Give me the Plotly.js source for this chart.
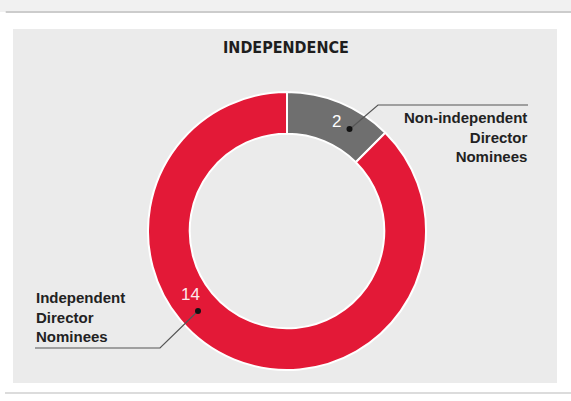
<!DOCTYPE html>
<html><head><meta charset="utf-8">
<script src="https://cdn.plot.ly/plotly-3.0.1.min.js"></script>
<style>html,body{margin:0;padding:0;background:#fff}#chart{width:571px;height:401px}</style>
</head><body><div id="chart"></div>
<script>
const categories = ["Non-independent Director Nominees", "Independent Director Nominees"];
const values = [2, 14];
const colors = ["#6f6f6f", "#e31937"];
const labelLines = [["Non-independent", "Director", "Nominees"], ["Independent", "Director", "Nominees"]];
const chartTitle = "INDEPENDENCE";

const W = 571, H = 401;
const px = x => x / W, py = y => 1 - y / H;
const cx = 287, cy = 231, R = 139;
const titleFont = "'DejaVu Sans Condensed', 'Liberation Sans Narrow', Arial, sans-serif";
const labelFont = "'Liberation Sans', Arial, sans-serif";

const shapes = [
  {type:'rect', xref:'paper', yref:'paper', x0:0, x1:1, y0:py(12), y1:1, fillcolor:'#f1f1f1', line:{width:0}, layer:'below'},
  {type:'line', xref:'paper', yref:'paper', x0:0.01, x1:1, y0:py(12), y1:py(12), line:{color:'#cccccc', width:2}, layer:'below'},
  {type:'rect', xref:'paper', yref:'paper', x0:px(13), x1:px(557), y0:py(383), y1:py(29), fillcolor:'#ebebeb', line:{width:0}, layer:'below'},
  {type:'line', xref:'paper', yref:'paper', x0:px(5), x1:1, y0:py(393), y1:py(393), line:{color:'#dcdcdc', width:2}, layer:'below'},
  {type:'path', xref:'paper', yref:'paper', path:`M ${px(350)} ${py(129)} L ${px(378)} ${py(105)} L ${px(528)} ${py(105)}`, line:{color:'#555', width:1.2}},
  {type:'path', xref:'paper', yref:'paper', path:`M ${px(198)} ${py(311)} L ${px(160)} ${py(348)} L ${px(35)} ${py(348)}`, line:{color:'#555', width:1.2}},
  {type:'circle', xref:'paper', yref:'paper', x0:px(346.5), x1:px(352.5), y0:py(132), y1:py(126), fillcolor:'#111', line:{width:0}},
  {type:'circle', xref:'paper', yref:'paper', x0:px(195), x1:px(201), y0:py(314), y1:py(308), fillcolor:'#111', line:{width:0}}
];

const annotations = [
  {text:'<b>'+chartTitle+'</b>', xref:'paper', yref:'paper', x:px(286), y:py(47), xanchor:'center', yanchor:'middle', showarrow:false, font:{family:titleFont, size:16, color:'#1e1e1e'}},
  {text:String(values[0]), xref:'paper', yref:'paper', x:px(336), y:py(122), xanchor:'center', yanchor:'middle', showarrow:false, font:{family:labelFont, size:17, color:'#fff'}},
  {text:String(values[1]), xref:'paper', yref:'paper', x:px(190), y:py(294), xanchor:'center', yanchor:'middle', showarrow:false, font:{family:labelFont, size:17, color:'#fde8eb'}},
  {text:'<b>'+labelLines[0].join('<br>')+'</b>', xref:'paper', yref:'paper', x:px(529), y:py(107), xanchor:'right', yanchor:'top', align:'right', showarrow:false, font:{family:labelFont, size:15, color:'#222'}},
  {text:'<b>'+labelLines[1].join('<br>')+'</b>', xref:'paper', yref:'paper', x:px(34), y:py(347), xanchor:'left', yanchor:'bottom', align:'left', showarrow:false, font:{family:labelFont, size:15, color:'#222'}}
];

const trace = {
  type:'pie', labels:categories, values:values, hole:0.7, sort:false, direction:'clockwise', rotation:0,
  marker:{colors:colors, line:{color:'#ffffff', width:2}},
  textinfo:'none', hoverinfo:'label+value',
  domain:{x:[px(cx-R), px(cx+R)], y:[py(cy+R), py(cy-R)]}
};

Plotly.newPlot('chart', [trace], {
  width:W, height:H, margin:{l:0,r:0,t:0,b:0}, showlegend:false,
  paper_bgcolor:'#ffffff', plot_bgcolor:'#ffffff', shapes, annotations
}, {staticPlot:true});
</script></body></html>
